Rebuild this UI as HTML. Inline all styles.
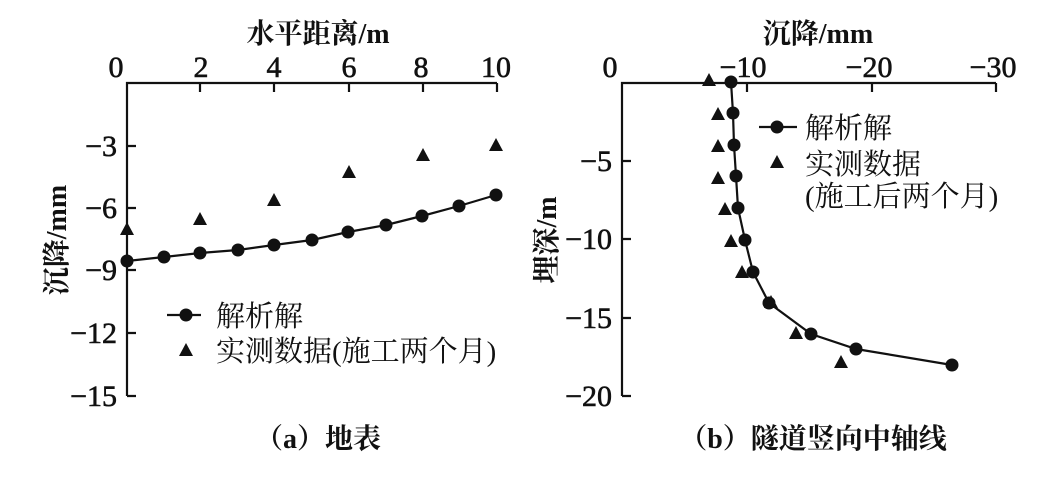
<!DOCTYPE html>
<html><head><meta charset="utf-8"><style>
html,body{margin:0;padding:0;background:#fff;}
text{font-family:"Liberation Serif","Noto Serif CJK SC",serif;fill:#111;}
</style></head><body>
<svg width="1054" height="491" viewBox="0 0 1054 491" xmlns="http://www.w3.org/2000/svg">
<g stroke="#111" stroke-width="2.2" fill="none">
<path d="M127,396 V83 H497"/>
<path d="M200,83v9 M274,83v9 M349,83v9 M423,83v9 M497,83v9"/>
<path d="M127,146h9 M127,208h9 M127,270h9 M127,333h9 M127,396h9"/>
<path d="M622,396 V83 H996"/>
<path d="M747,83v9 M872,83v9 M996,83v9"/>
<path d="M622,161h9 M622,239h9 M622,318h9 M622,396h9"/>
<polyline points="127,261 164,257 200,253 238,250 274,245 312,240 348,232 386,225 422,216 459,206 496,195"/>
<polyline points="731,82 733,113 734,145 736,176 738,208 745,240 753,272 769,303 811,334 856,349 952,365"/>
<path d="M167,315H201 M759,127H797"/>
</g>
<g fill="#111">
<circle cx="127" cy="261" r="6.5"/><circle cx="164" cy="257" r="6.5"/><circle cx="200" cy="253" r="6.5"/><circle cx="238" cy="250" r="6.5"/><circle cx="274" cy="245" r="6.5"/><circle cx="312" cy="240" r="6.5"/><circle cx="348" cy="232" r="6.5"/><circle cx="386" cy="225" r="6.5"/><circle cx="422" cy="216" r="6.5"/><circle cx="459" cy="206" r="6.5"/><circle cx="496" cy="195" r="6.5"/>
<circle cx="186" cy="315" r="6.5"/>
<circle cx="731" cy="82" r="6.5"/><circle cx="733" cy="113" r="6.5"/><circle cx="734" cy="145" r="6.5"/><circle cx="736" cy="176" r="6.5"/><circle cx="738" cy="208" r="6.5"/><circle cx="745" cy="240" r="6.5"/><circle cx="753" cy="272" r="6.5"/><circle cx="769" cy="303" r="6.5"/><circle cx="811" cy="334" r="6.5"/><circle cx="856" cy="349" r="6.5"/><circle cx="952" cy="365" r="6.5"/>
<circle cx="777" cy="127" r="6.5"/>
<path d="M127,222l7,13h-14z M200,212l7,13h-14z M274,193l7,13h-14z M349,165l7,13h-14z M423,148l7,13h-14z M496,138l7,13h-14z M186,343l7,13h-14z"/>
<path d="M709,73l7,13h-14z M718,107l7,13h-14z M718,139l7,13h-14z M718,171l7,13h-14z M725,202l7,13h-14z M731,234l7,13h-14z M742,265l7,13h-14z M771,295l7,13h-14z M796,326l7,13h-14z M841,355l7,13h-14z M777,155l7,13h-14z"/>
</g>
<g font-size="30" stroke="#111" stroke-width="0.6">
<text x="116" y="77" text-anchor="middle">0</text><text x="201" y="77" text-anchor="middle">2</text><text x="274" y="77" text-anchor="middle">4</text><text x="349" y="77" text-anchor="middle">6</text><text x="421" y="77" text-anchor="middle">8</text><text x="496" y="77" text-anchor="middle">10</text>
<text x="117" y="156" text-anchor="end">−3</text><text x="117" y="218" text-anchor="end">−6</text><text x="117" y="280" text-anchor="end">−9</text><text x="117" y="343" text-anchor="end">−12</text><text x="117" y="406" text-anchor="end">−15</text>
<text x="610" y="77" text-anchor="middle">0</text><text x="743" y="77" text-anchor="middle">−10</text><text x="869" y="77" text-anchor="middle">−20</text><text x="993" y="77" text-anchor="middle">−30</text>
<text x="612" y="171" text-anchor="end">−5</text><text x="612" y="249" text-anchor="end">−10</text><text x="612" y="328" text-anchor="end">−15</text><text x="612" y="406" text-anchor="end">−20</text>
</g>
<g font-size="28" font-weight="bold">
<text x="318" y="43" text-anchor="middle">水平距离/m</text>
<text x="818" y="43" text-anchor="middle">沉降/mm</text>
<text transform="translate(66,240) rotate(-90)" text-anchor="middle">沉降/mm</text>
<text transform="translate(556,240) rotate(-90)" text-anchor="middle">埋深/m</text>
<text x="318" y="448" text-anchor="middle">（a）地表</text>
<text x="813" y="448" text-anchor="middle">（b）隧道竖向中轴线</text>
</g>
<g font-size="29">
<text x="216" y="326">解析解</text>
<text x="216" y="361">实测数据(施工两个月)</text>
<text x="805" y="138">解析解</text>
<text x="805" y="174">实测数据</text>
<text x="805" y="206">(施工后两个月)</text>
</g>
</svg>
</body></html>
